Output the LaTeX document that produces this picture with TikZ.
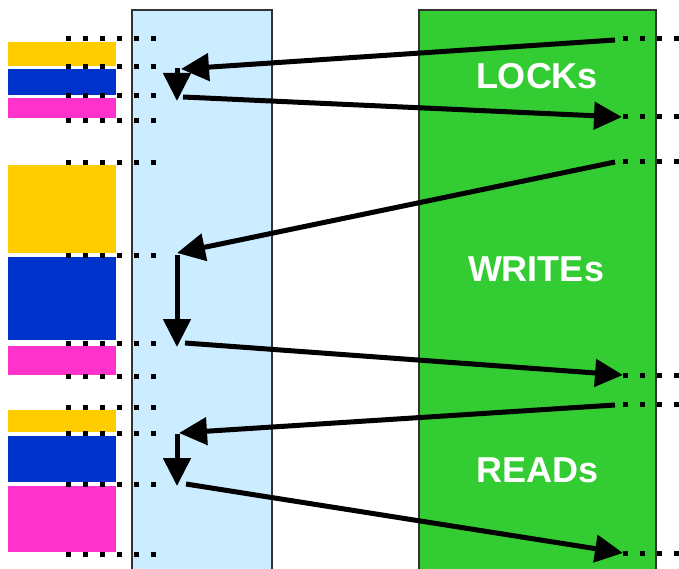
\documentclass[tikz,border=0pt]{standalone}
\usepackage{fontspec}
\setmainfont{Liberation Sans}
\usepackage{xcolor}
\usetikzlibrary{arrows.meta}
\definecolor{regYellow}{RGB}{255,204,0}
\definecolor{regBlue}{RGB}{0,51,204}
\definecolor{regPink}{RGB}{255,51,204}
\definecolor{memBlue}{RGB}{204,236,255}
\definecolor{txGreen}{RGB}{51,204,51}

\begin{document}
\begin{tikzpicture}[x=1pt, y=-1pt,
    dots/.style={line width=5pt, dash pattern=on 5pt off 12pt},
    flow/.style={line width=5pt, -{Triangle[length=28pt,width=27pt]}},
    lbl/.style={text=white, font=\bfseries\fontsize{36}{40}\selectfont}]
    \useasboundingbox (0,0) rectangle (679,569);
    \clip (0,0) rectangle (679,569);
    % register blocks
    \foreach \t/\b/\c in {42/66/regYellow, 69/95/regBlue, 98/118/regPink,
        165/253/regYellow, 257/340/regBlue, 346/375/regPink,
        410/432/regYellow, 436/482/regBlue, 486/552/regPink}
      \fill[\c] (8,\t) rectangle (116,\b);
    % columns
    \draw[line width=1.5pt, black!80, fill=memBlue] (132,575) rectangle (272,10);
    \draw[line width=1.5pt, black!80, fill=txGreen] (419,575) rectangle (656,10);
    \foreach \y in {39, 67, 96, 121, 163, 255, 343, 376, 407, 433, 484, 554}
      \draw[dots] (66,\y) -- (160,\y);
    \foreach \y in {39, 117, 162, 375, 404, 553}
      \draw[dots] (623,\y) -- (685,\y);
    \node[lbl] (locks) at (537,76) {LOCKs};
    \node[lbl] (writes) at (536,269) {WRITEs};
    \node[lbl] (reads) at (538,470) {READs};
    \coordinate (lockOut) at (615,40);
    \coordinate (lockIn) at (181,69);
    \coordinate (lockTop) at (177,68);
    \coordinate (lockBot) at (177,101);
    \coordinate (lockRet) at (183,97);
    \coordinate (lockEnd) at (622,117);
    \coordinate (writeOut) at (615,162);
    \coordinate (writeIn) at (177,253);
    \coordinate (writeTop) at (177,255);
    \coordinate (writeBot) at (177,347);
    \coordinate (writeRet) at (185,343);
    \coordinate (writeEnd) at (623,375);
    \coordinate (readOut) at (615,405);
    \coordinate (readIn) at (179,433);
    \coordinate (readTop) at (177,434);
    \coordinate (readBot) at (177,486);
    \coordinate (readRet) at (186,484);
    \coordinate (readEnd) at (623,553);
    \draw[flow] (lockOut) -- (lockIn);
    \draw[flow] (lockTop) -- (lockBot);
    \draw[flow] (lockRet) -- (lockEnd);
    \draw[flow] (writeOut) -- (writeIn);
    \draw[flow] (writeTop) -- (writeBot);
    \draw[flow] (writeRet) -- (writeEnd);
    \draw[flow] (readOut) -- (readIn);
    \draw[flow] (readTop) -- (readBot);
    \draw[flow] (readRet) -- (readEnd);
\end{tikzpicture}
\end{document}
